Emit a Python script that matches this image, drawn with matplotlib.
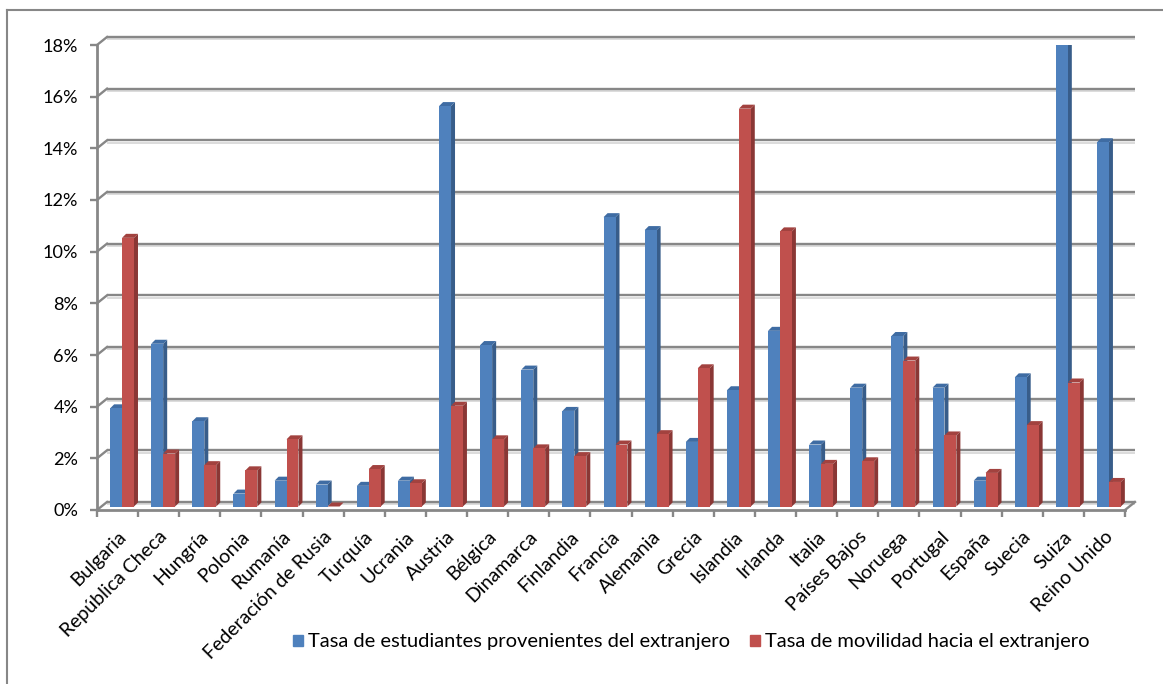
import matplotlib
matplotlib.use('Agg')
import matplotlib.pyplot as plt
from matplotlib.patches import Polygon, Patch
from matplotlib.lines import Line2D

paises = ['Bulgaria', 'República Checa', 'Hungría', 'Polonia', 'Rumanía',
          'Federación de Rusia', 'Turquía', 'Ucrania', 'Austria', 'Bélgica',
          'Dinamarca', 'Finlandia', 'Francia', 'Alemania', 'Grecia', 'Islandia',
          'Irlanda', 'Italia', 'Países Bajos', 'Noruega', 'Portugal', 'España',
          'Suecia', 'Suiza', 'Reino Unido']

# % de estudiantes provenientes del extranjero
entrantes = [3.8, 6.3, 3.3, 0.5, 1.0, 0.85, 0.8, 1.0, 15.5, 6.25, 5.3, 3.7,
             11.2, 10.7, 2.5, 4.5, 6.8, 2.4, 4.6, 6.6, 4.6, 1.0, 5.0, 17.85, 14.1]
# % de movilidad hacia el extranjero
salientes = [10.4, 2.05, 1.6, 1.4, 2.6, 0.0, 1.45, 0.9, 3.9, 2.6, 2.25, 1.95,
             2.4, 2.8, 5.35, 15.4, 10.65, 1.65, 1.75, 5.65, 2.75, 1.3, 3.15, 4.8, 0.95]

series_labels = ['Tasa de estudiantes provenientes del extranjero',
                 'Tasa de movilidad hacia el extranjero']
y_ticks = list(range(0, 19, 2))

plt.rcParams['font.family'] = ['Lato', 'DejaVu Sans']

GRAY = '#878787'
FW, FH = 1163, 684
L, R, T, B = 97, 1125, 45, 510   # frente del grafico en pixeles

fig = plt.figure(figsize=(FW / 100, FH / 100), dpi=100)
ax = fig.add_axes([L / FW, 1 - B / FH, (R - L) / FW, (B - T) / FH])
n = len(paises)
ax.set_xlim(-0.5, n - 0.5)
ax.set_ylim(0, 18)
ux = n / (R - L)      # unidades por pixel
uy = 18 / (B - T)

# pared del fondo: lineas de division + diagonales del lateral
for v in y_ticks:
    yb = v + 8 * uy
    ax.plot([-0.5 + 10 * ux, n - 0.5 + 10 * ux], [yb - 2.2 * uy] * 2, color='#d6d6d6',
            lw=1.2, zorder=0.9, clip_on=False, solid_capstyle='butt')
    ax.plot([-0.5 + 10 * ux, n - 0.5 + 10 * ux], [yb, yb], color=GRAY,
            lw=1.7, zorder=1, clip_on=False, solid_capstyle='butt')
    ax.plot([-0.5, -0.5 + 10 * ux], [v, yb], color=GRAY, lw=1.7, zorder=1, clip_on=False)
ax.plot([n - 0.5, n - 0.5 + 10 * ux], [0, 8 * uy], color=GRAY, lw=1.7, zorder=1, clip_on=False)

# barras con efecto 3D
W = 0.29
ox, oy = 4.5 * ux, 3.5 * uy
dx, dy = 4 * ux, 4 * uy
estilos = [(entrantes, '#4F81BD', '#385D8A', '#3F6CA3', 2),
           (salientes, '#C0504D', '#8A3735', '#A2423F', 3)]
handles = []
for s, (vals, c_front, c_side, c_top, z) in enumerate(estilos):
    xs = [i - W + s * W + ox for i in range(n)]
    ax.bar(xs, vals, width=W, bottom=oy, align='edge', color=c_front,
           zorder=z + 0.1, linewidth=0)
    for x0, v in zip(xs, vals):
        x1 = x0 + W
        top = oy + v
        ax.add_patch(Polygon([(x1, oy), (x1 + dx, oy + dy), (x1 + dx, top + dy), (x1, top)],
                             closed=True, color=c_side, lw=0, zorder=z))
        ax.add_patch(Polygon([(x0, top), (x0 + dx, top + dy), (x1 + dx, top + dy), (x1, top)],
                             closed=True, color=c_top, lw=0, zorder=z))
    handles.append(Patch(color=c_front))

for side in ['top', 'right']:
    ax.spines[side].set_visible(False)
for side in ['left', 'bottom']:
    ax.spines[side].set_color(GRAY)
    ax.spines[side].set_linewidth(2.0)

ax.set_yticks(y_ticks, labels=[f'{v}%' for v in y_ticks])
ax.tick_params(axis='y', length=5, width=1.7, color=GRAY, pad=8.5, labelsize=13.1)
ax.set_xticks([k - 0.5 for k in range(n + 1)], labels=[])
ax.tick_params(axis='x', which='major', length=5, width=1.7, color=GRAY)
ax.set_xticks(range(n), labels=paises, minor=True)
ax.tick_params(axis='x', which='minor', length=0, pad=13, labelsize=14)
for lab in ax.get_xticklabels(minor=True):
    lab.set_rotation(45)
    lab.set_ha('right')
    lab.set_va('top')
    lab.set_rotation_mode('anchor')

fig.legend(handles, series_labels, loc='center', bbox_to_anchor=(691 / FW, 1 - 642 / FH),
           ncol=2, frameon=False, fontsize=14.5, handlelength=0.5, handleheight=0.5,
           handletextpad=0.25, columnspacing=1.0)

# borde del area del grafico
fig.add_artist(Line2D([7 / FW, 7 / FW], [0, 1 - 10 / FH], transform=fig.transFigure,
                      color=GRAY, lw=1.5))
fig.add_artist(Line2D([7 / FW, 1], [1 - 10 / FH, 1 - 10 / FH], transform=fig.transFigure,
                      color=GRAY, lw=1.5))

fig.savefig('out.png', dpi=100)
